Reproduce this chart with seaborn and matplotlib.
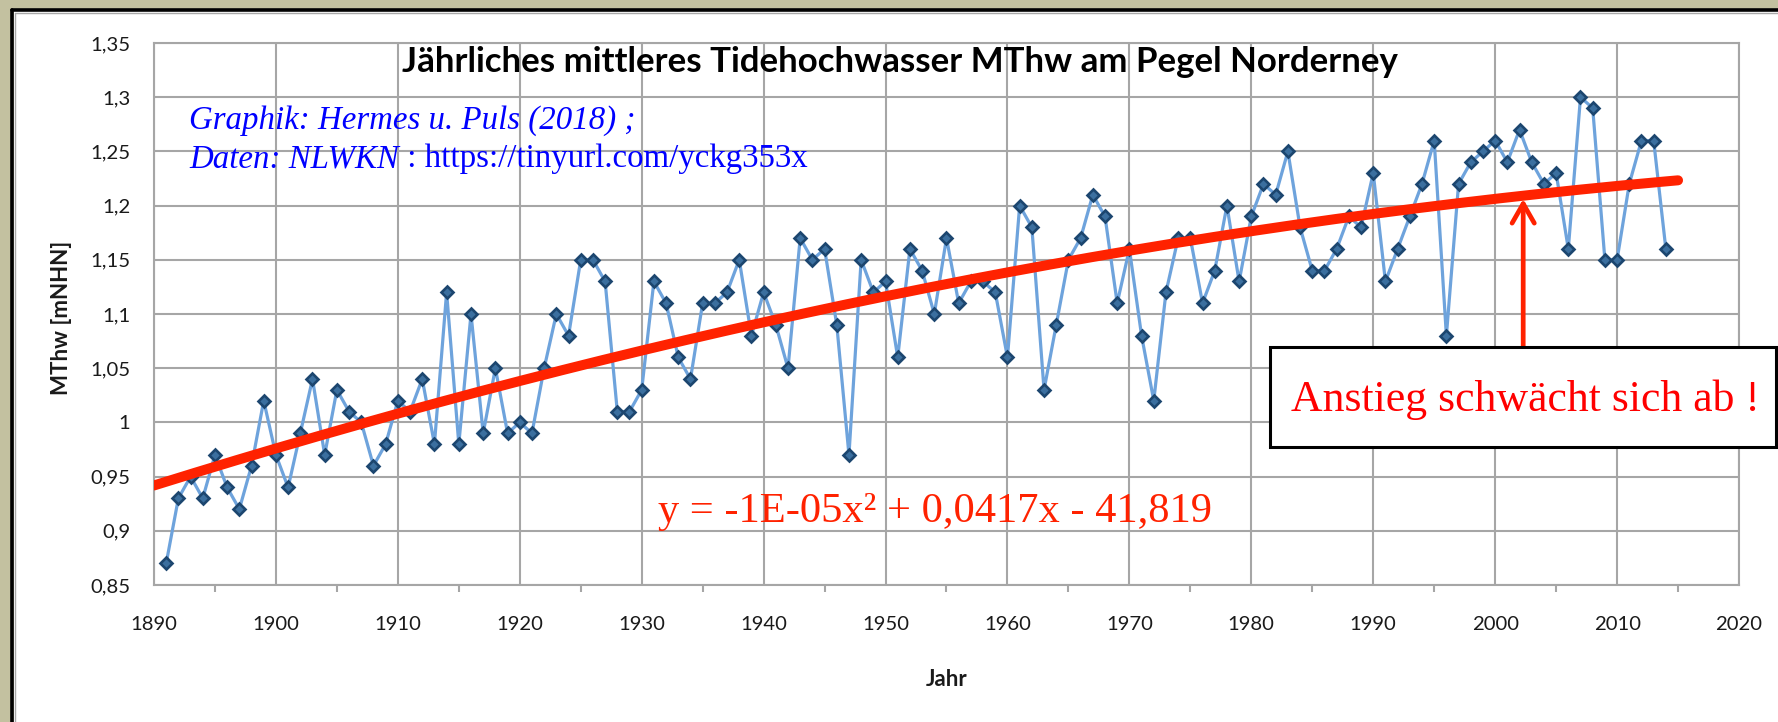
import numpy as np
import pandas as pd
import matplotlib
matplotlib.use("Agg")
import matplotlib.pyplot as plt
import seaborn as sns
from matplotlib.patches import Rectangle
from matplotlib.lines import Line2D
from matplotlib.ticker import MultipleLocator, FuncFormatter

# ---------------- data ----------------
years = list(range(1891, 2015))
mthw = [
    0.87, 0.93, 0.95, 0.93, 0.97, 0.94, 0.92, 0.96, 1.02,            # 1891-1899
    0.97, 0.94, 0.99, 1.04, 0.97, 1.03, 1.01, 1.00, 0.96, 0.98,      # 1900-1909
    1.02, 1.01, 1.04, 0.98, 1.12, 0.98, 1.10, 0.99, 1.05, 0.99,      # 1910-1919
    1.00, 0.99, 1.05, 1.10, 1.08, 1.15, 1.15, 1.13, 1.01, 1.01,      # 1920-1929
    1.03, 1.13, 1.11, 1.06, 1.04, 1.11, 1.11, 1.12, 1.15, 1.08,      # 1930-1939
    1.12, 1.09, 1.05, 1.17, 1.15, 1.16, 1.09, 0.97, 1.15, 1.12,      # 1940-1949
    1.13, 1.06, 1.16, 1.14, 1.10, 1.17, 1.11, 1.13, 1.13, 1.12,      # 1950-1959
    1.06, 1.20, 1.18, 1.03, 1.09, 1.15, 1.17, 1.21, 1.19, 1.11,      # 1960-1969
    1.16, 1.08, 1.02, 1.12, 1.17, 1.17, 1.11, 1.14, 1.20, 1.13,      # 1970-1979
    1.19, 1.22, 1.21, 1.25, 1.18, 1.14, 1.14, 1.16, 1.19, 1.18,      # 1980-1989
    1.23, 1.13, 1.16, 1.19, 1.22, 1.26, 1.08, 1.22, 1.24, 1.25,      # 1990-1999
    1.26, 1.24, 1.27, 1.24, 1.22, 1.23, 1.16, 1.30, 1.29, 1.15,      # 2000-2009
    1.15, 1.22, 1.26, 1.26, 1.16,                                    # 2010-2014
]
trend_years = [1890, 2015]
x_limits = [1890, 2020]
y_limits = [0.85, 1.35]

title = "Jährliches mittleres Tidehochwasser MThw am Pegel Norderney"
x_label = "Jahr"
y_label = "MThw [mNHN]"
credit_line1 = "Graphik: Hermes u. Puls (2018) ;"
credit_line2_italic = "Daten: NLWKN"
credit_line2_plain = " : https://tinyurl.com/yckg353x"
equation = "y = -1E-05x² + 0,0417x - 41,819"
box_text = "Anstieg schwächt sich ab !"
arrow_year = 2002.3

# ---------------- style ----------------
sns.set_style("whitegrid")
plt.rcParams["font.family"] = ["Lato", "DejaVu Sans"]

W, H = 1778, 722
fig = plt.figure(figsize=(W / 100, H / 100), dpi=100)

def fx(px):
    return px / W

def fy(py):
    return 1 - py / H

beige = "#c3c1a0"
fig.patch.set_facecolor(beige)
# white panel + frame
fig.add_artist(Rectangle((fx(14), 0), 1 - fx(14), fy(11), transform=fig.transFigure,
                         facecolor="white", edgecolor="none", zorder=-5))
fig.add_artist(Line2D([fx(12), fx(12)], [0, fy(9.5)], transform=fig.transFigure,
                      color="black", lw=2.6, zorder=-4))
fig.add_artist(Line2D([fx(12), 1], [fy(9.5), fy(9.5)], transform=fig.transFigure,
                      color="black", lw=2.6, zorder=-4))
fig.add_artist(Line2D([fx(15), fx(15)], [0, fy(12.5)], transform=fig.transFigure,
                      color="#a8a8a8", lw=1.0, zorder=-4))
fig.add_artist(Line2D([fx(15), 1], [fy(12.5), fy(12.5)], transform=fig.transFigure,
                      color="#a8a8a8", lw=1.0, zorder=-4))

ax = fig.add_axes([fx(154), fy(585), (1739 - 154) / W, (585 - 43) / H])
ax.set_facecolor("none")

df = pd.DataFrame({"Jahr": years, "MThw": mthw})
sns.lineplot(data=df, x="Jahr", y="MThw", ax=ax, color="#6ea3dc", linewidth=2.3,
             marker="D", markersize=5.8, markerfacecolor="#3b6f9f",
             markeredgecolor="#1c466f", markeredgewidth=1.9, zorder=3)

coefs = np.polyfit(years, mthw, 2)
tx = np.linspace(trend_years[0], trend_years[1], 300)
trend_df = pd.DataFrame({"Jahr": tx, "Trend": np.polyval(coefs, tx)})
sns.lineplot(data=trend_df, x="Jahr", y="Trend", ax=ax, color="#ff2200",
             linewidth=7.2, zorder=4, solid_capstyle="round")

ax.set_xlim(*x_limits)
ax.set_ylim(*y_limits)
ax.xaxis.set_major_locator(MultipleLocator(10))
ax.xaxis.set_minor_locator(MultipleLocator(5))
ax.yaxis.set_major_locator(MultipleLocator(0.05))

def de_fmt(v, pos):
    s = f"{v:.2f}".rstrip("0").rstrip(".")
    return s.replace(".", ",")

ax.yaxis.set_major_formatter(FuncFormatter(de_fmt))
ax.xaxis.set_major_formatter(FuncFormatter(lambda v, p: f"{int(round(v))}"))

grid_c = "#a6a6a6"
ax.grid(True, which="major", color=grid_c, linewidth=1.5)
ax.grid(False, which="minor")
for sp in ax.spines.values():
    sp.set_visible(True)
    sp.set_color(grid_c)
    sp.set_linewidth(1.5)
ax.tick_params(axis="both", which="major", direction="out", length=7, width=1.5,
               color=grid_c, labelsize=14.6, labelcolor="#1a1a1a")
ax.tick_params(axis="x", which="major", pad=15)
ax.tick_params(axis="y", which="major", pad=10)
ax.tick_params(axis="x", which="minor", direction="out", length=5, width=1.5,
               color=grid_c, bottom=True)

ax.set_xlabel(x_label, fontsize=16, fontweight="bold", color="#1a1a1a")
ax.set_ylabel(y_label, fontsize=16, fontweight="bold", color="#1a1a1a")
ax.xaxis.set_label_coords(0.5, -(679 - 585) / 542)
ax.yaxis.set_label_coords(-(154 - 62) / 1585, 1 - (318 - 43) / 542)
ax.xaxis.label.set_va("center")
ax.yaxis.label.set_va("center")

renderer = fig.canvas.get_renderer()

def fit(t, target_w):
    w = t.get_window_extent(renderer).width
    t.set_fontsize(t.get_fontsize() * target_w / w)

# title
t_title = fig.text(fx(402), fy(62), title, ha="left", va="center",
                   fontsize=24, fontweight="bold", color="black")
fit(t_title, 998)

# credit lines
serif = ["Liberation Serif", "DejaVu Serif"]
t1 = fig.text(fx(189), fy(129), credit_line1, ha="left", va="baseline",
              family=serif, style="italic", fontsize=24, color="#0000ff")
fit(t1, 447)
cs = t1.get_fontsize()
t2a = fig.text(fx(189), fy(167), credit_line2_italic, ha="left", va="baseline",
               family=serif, style="italic", fontsize=cs, color="#0000ff")
w2a = t2a.get_window_extent(renderer).width
t2b = fig.text(fx(189 + w2a), fy(167), credit_line2_plain, ha="left", va="baseline",
               family=serif, fontsize=cs, color="#0000ff")

# equation
t_eq = fig.text(fx(658), fy(512), equation, ha="left", va="center",
                family=serif, fontsize=30, color="#ff2200")
fit(t_eq, 553)

# annotation box + arrow
fig.add_artist(Rectangle((fx(1270), fy(447)), (1776 - 1270) / W, (447 - 347) / H,
                         transform=fig.transFigure, facecolor="white",
                         edgecolor="black", lw=2.2, zorder=5))
t_box = fig.text(fx(1525), fy(400), box_text, ha="center", va="center",
                 family=serif, fontsize=32, color="#ff0000", zorder=6)
fit(t_box, 470)

tip_y = np.polyval(coefs, arrow_year) - 0.003
base_y = y_limits[1] - (347 - 43) / 542 * (y_limits[1] - y_limits[0])
ax.annotate("", xy=(arrow_year, tip_y), xytext=(arrow_year, base_y),
            arrowprops=dict(arrowstyle="->,head_length=14,head_width=8",
                            color="#ff2200", lw=3.4, mutation_scale=1,
                            shrinkA=0, shrinkB=0),
            annotation_clip=False, zorder=6)

fig.savefig("out.png", dpi=100, facecolor=fig.get_facecolor())
